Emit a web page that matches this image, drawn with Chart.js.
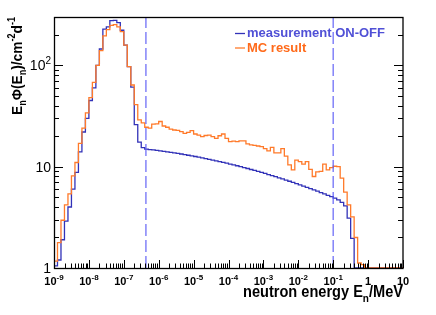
<!DOCTYPE html>
<html>
<head>
<meta charset="utf-8">
<script src="https://cdn.jsdelivr.net/npm/chart.js@4/dist/chart.umd.min.js"></script>
<style>
  html, body { margin: 0; padding: 0; background: #fff; }
  #wrap { width: 436px; height: 315px; }
</style>
</head>
<body>
<div id="wrap"><canvas id="fluxChart" width="436" height="315"></canvas></div>
<script>
// histogram binning: 10 log bins per decade, starting at 1e-9 MeV
const firstEdgeExp = -9;
const binsPerDecade = 10;

// E*phi(E) per bin, measurement (ON-OFF)
const measurement = [
  1.05, 1.2, 1.9, 2.9, 4.0, 6.0, 8.8, 14, 22, 30,
  45, 60, 100, 145, 228, 240, 276, 278, 264, 222,
  158, 97, 61, 26, 17.5, 15.4,
  14.89, 14.76, 14.62, 14.47, 14.32, 14.17, 14.01, 13.85, 13.68, 13.51,
  13.33, 13.16, 12.97, 12.79, 12.60, 12.41, 12.22, 12.02, 11.83, 11.63,
  11.43, 11.23, 11.02, 10.82, 10.62, 10.41, 10.21, 10.00, 9.79, 9.59,
  9.38, 9.18, 8.97, 8.77, 8.57, 8.36, 8.17, 7.96, 7.77, 7.57,
  7.38, 7.18, 6.99, 6.81, 6.62, 6.44, 6.26, 6.08, 5.90, 5.73,
  5.55, 5.39, 5.22, 5.06, 4.90,
  4.7, 4.45, 4.1, 3.1, 1.96,
  1, 1, 1, 1, 1, 1, 1, 1, 1, 1, 1, 1, 1, 1
];

// E*phi(E) per bin, Monte Carlo
const mcResult = [
  1.17, 1.78, 2.96, 4.2, 5.4, 8.1, 11, 17, 24, 34,
  48, 68, 100, 140, 195, 225, 248, 252, 240, 215,
  158, 97, 64, 41, 29, 27,
  24.5, 24, 26.3, 26.5, 27.9, 25.2, 24.5, 23.5, 23.0, 22.8,
  22.2, 21.3, 21.8, 22.7, 21.0, 20.5, 19.8, 20.3, 20.5, 19.8,
  19.0, 20.2, 21.0, 19.0, 17.7, 17.9, 17.7, 18.0, 18.0, 16.8,
  16.4, 16.2, 16.0, 15.8, 15.1, 14.3, 15.5, 13.7, 13.7, 15.1,
  12.7, 10.4, 9.3, 11.6, 11.2, 10.6, 11.2, 9.4, 8.0, 8.9,
  9.0, 10.6, 9.3, 9.8, 10.1, 10.0,
  7.7, 5.6, 4.2, 3.2, 2.0, 1.12, 1.08,
  1, 1, 1, 1, 1, 1, 1, 1, 1, 1, 1
];

// vertical dashed markers (MeV)
const cutEnergies = [4.3e-7, 0.1];

const xTickExps = [-9, -8, -7, -6, -5, -4, -3, -2, -1, 0, 1];
const xTickLabels = [
  ["10", "-9"], ["10", "-8"], ["10", "-7"], ["10", "-6"], ["10", "-5"], ["10", "-4"],
  ["10", "-3"], ["10", "-2"], ["10", "-1"], ["1", ""], ["10", ""]
];
const yTickValues = [1, 10, 100];
const yTickLabels = [["1", ""], ["10", ""], ["10", "2"]];

const xRange = [1e-9, 10];
const yRange = [1, 300];

const FONT = '"Liberation Sans", Arial, Helvetica, sans-serif';
const BLUE = '#3232b8';
const ORANGE = '#ff7a2a';

function histPoints(values) {
  const pts = values.map((v, i) => ({ x: Math.pow(10, firstEdgeExp + i / binsPerDecade), y: v }));
  pts.push({ x: Math.pow(10, firstEdgeExp + values.length / binsPerDecade), y: values[values.length - 1] });
  return pts;
}

// text with sub/superscripts: parts = [[text, kind]], kind 0 normal, 1 sub, 2 sup
function richWidth(ctx, parts, base, small) {
  let w = 0;
  for (const [t, k] of parts) {
    ctx.font = k ? small : base;
    w += ctx.measureText(t).width;
  }
  return w;
}
function drawRich(ctx, parts, x, y, base, small, subDy, supDy) {
  let cx = x;
  for (const [t, k] of parts) {
    ctx.font = k ? small : base;
    const dy = k === 1 ? subDy : (k === 2 ? -supDy : 0);
    ctx.fillText(t, cx, y + dy);
    cx += ctx.measureText(t).width;
  }
}

const rootFrame = {
  id: 'rootFrame',
  afterDraw(chart) {
    const { ctx, chartArea: a } = chart;
    const xs = chart.scales.x, ys = chart.scales.y;
    ctx.save();
    ctx.strokeStyle = '#000';
    ctx.fillStyle = '#000';
    ctx.lineWidth = 1;

    // ticks (inside the frame)
    ctx.beginPath();
    for (let e = -9; e <= 1; e++) {
      for (let m = 1; m <= 9; m++) {
        const v = m * Math.pow(10, e);
        if (v > xRange[1] * 1.0001) break;
        const px = Math.round(xs.getPixelForValue(v)) + 0.5;
        const len = m === 1 ? 8 : 4.5;
        ctx.moveTo(px, a.bottom);
        ctx.lineTo(px, a.bottom - len);
      }
    }
    for (let e = 0; e <= 2; e++) {
      for (let m = 1; m <= 9; m++) {
        const v = m * Math.pow(10, e);
        if (v > yRange[1]) break;
        const py = Math.round(ys.getPixelForValue(v)) + 0.5;
        const len = m === 1 ? 9 : 5;
        ctx.moveTo(a.left, py); ctx.lineTo(a.left + len, py);
        ctx.moveTo(a.right, py); ctx.lineTo(a.right - len, py);
      }
    }
    ctx.stroke();

    // frame
    ctx.lineWidth = 1.3;
    ctx.strokeRect(a.left + 0.5, a.top + 0.5, a.right - a.left - 0.5, a.bottom - a.top);

    ctx.textAlign = 'left';
    ctx.textBaseline = 'alphabetic';

    // x tick labels
    xTickExps.forEach((e, i) => {
      const [b, s] = xTickLabels[i];
      const parts = [[b, 0], [s, 2]];
      const base = 'bold 11px ' + FONT, small = 'bold 8px ' + FONT;
      const w = richWidth(ctx, parts, base, small);
      const px = xs.getPixelForValue(Math.pow(10, e));
      drawRich(ctx, parts, px - w / 2, 285, base, small, 0, 5.5);
    });

    // y tick labels
    yTickValues.forEach((v, i) => {
      const [b, s] = yTickLabels[i];
      const parts = [[b, 0], [s, 2]];
      const base = '14px ' + FONT, small = '10px ' + FONT;
      const w = richWidth(ctx, parts, base, small);
      const py = ys.getPixelForValue(v);
      drawRich(ctx, parts, 51 - w, py + 5, base, small, 0, 6.5);
    });

    // x title, right aligned to frame
    {
      const parts = [['neutron energy E', 0], ['n', 1], ['/MeV', 0]];
      const base = 'bold 16px ' + FONT, small = 'bold 11px ' + FONT;
      const w = richWidth(ctx, parts, base, small);
      const target = 160;
      ctx.save();
      ctx.translate(a.right - target, 296.5);
      ctx.scale(target / w, 1);
      drawRich(ctx, parts, 0, 0, base, small, 5, 6);
      ctx.restore();
    }

    // y title, rotated, ending at frame top
    {
      const parts = [['E', 0], ['n', 1], ['\u03A6(E', 0], ['n', 1], [')/cm', 0], ['-2', 2], ['d', 0], ['-1', 2]];
      const base = 'bold 15px ' + FONT, small = 'bold 10px ' + FONT;
      const w = richWidth(ctx, parts, base, small);
      const target = 98;
      ctx.save();
      ctx.translate(21.5, a.top + target);
      ctx.rotate(-Math.PI / 2);
      ctx.scale(target / w, 1);
      drawRich(ctx, parts, 0, 0, base, small, 4, 6.5);
      ctx.restore();
    }

    // legend
    const legend = [
      { text: 'measurement ON-OFF', line: BLUE, color: '#5050d6', y: 33.5 },
      { text: 'MC result', line: ORANGE, color: '#ff6a1a', y: 48 }
    ];
    ctx.font = 'bold 13px ' + FONT;
    ctx.textBaseline = 'middle';
    legend.forEach(item => {
      ctx.strokeStyle = item.line;
      ctx.lineWidth = 1.3;
      ctx.beginPath();
      ctx.moveTo(235, item.y);
      ctx.lineTo(245, item.y);
      ctx.stroke();
      ctx.fillStyle = item.color;
      ctx.fillText(item.text, 247, item.y);
    });

    ctx.restore();
  }
};

const cutDatasets = cutEnergies.map(e => ({
  label: 'cut',
  data: [{ x: e, y: yRange[0] }, { x: e, y: yRange[1] }],
  borderColor: 'rgba(90, 90, 245, 0.75)',
  borderWidth: 1.5,
  borderDash: [12, 4],
  pointRadius: 0,
  order: 0
}));

new Chart(document.getElementById('fluxChart'), {
  type: 'line',
  data: {
    datasets: [
      ...cutDatasets,
      {
        label: 'MC result',
        data: histPoints(mcResult),
        stepped: 'before',
        borderColor: ORANGE,
        borderWidth: 1.3,
        pointRadius: 0,
        order: 1
      },
      {
        label: 'measurement ON-OFF',
        data: histPoints(measurement),
        stepped: 'before',
        borderColor: BLUE,
        borderWidth: 1.3,
        pointRadius: 0,
        order: 2
      }
    ]
  },
  options: {
    responsive: false,
    animation: false,
    devicePixelRatio: 1,
    layout: { padding: { left: 54, top: 17, right: 33, bottom: 47 } },
    plugins: { legend: { display: false }, tooltip: { enabled: false } },
    scales: {
      x: { type: 'logarithmic', min: xRange[0], max: xRange[1], display: false },
      y: { type: 'logarithmic', min: yRange[0], max: yRange[1], display: false }
    }
  },
  plugins: [rootFrame]
});
</script>
</body>
</html>
